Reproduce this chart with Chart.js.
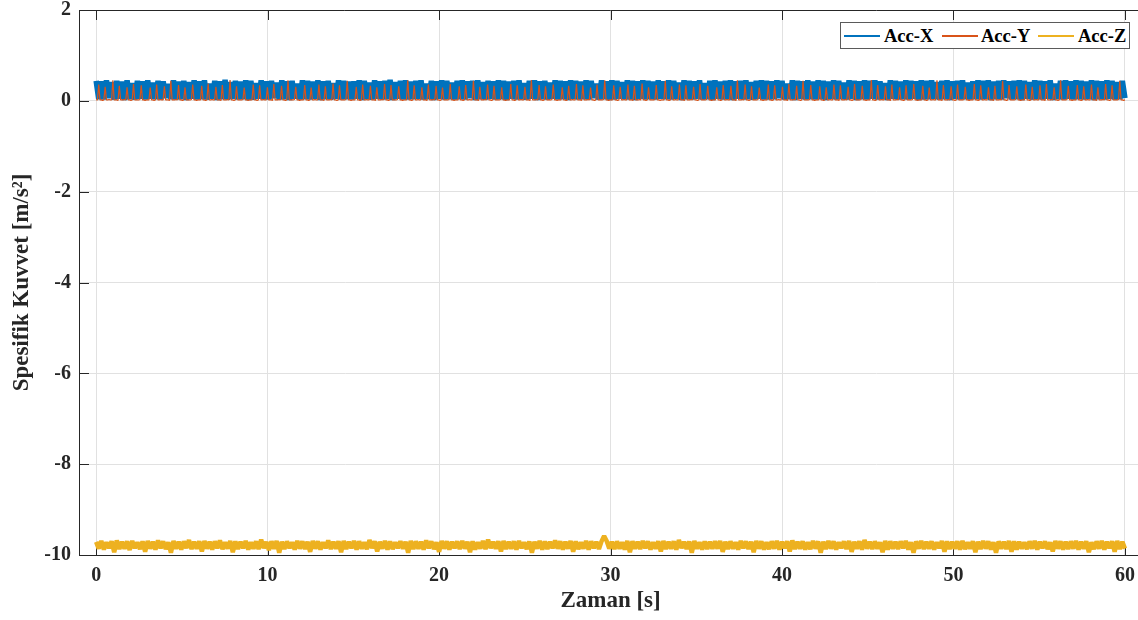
<!DOCTYPE html>
<html>
<head>
<meta charset="utf-8">
<script src="https://cdn.jsdelivr.net/npm/chart.js@4"></script>
<style>
html,body{margin:0;padding:0;background:#fff;overflow:hidden;}
#wrap{position:relative;width:1146px;height:620px;}
#legend{position:absolute;left:840px;top:22px;width:290px;height:27px;box-sizing:border-box;border:1px solid #5a5a5a;background:#fff;font:bold 18.5px "Liberation Serif","Times New Roman",serif;color:#000;}
#legend .sw{position:absolute;top:12px;width:36px;height:1.6px;}
#legend .tx{position:absolute;top:1px;line-height:24px;white-space:nowrap;}
</style>
</head>
<body>
<div id="wrap"><canvas id="c"></canvas><div id="legend"></div></div>
<script>
// ---- data ----
const seriesNames = ['Acc-X', 'Acc-Y', 'Acc-Z'];
const xTicks = [0, 10, 20, 30, 40, 50, 60];
const yTicks = [-10, -8, -6, -4, -2, 0, 2];
const duration = 60; // seconds covered by the samples

const accX = [
0.44,0.04,0.43,0.03,0.45,0.06,0.41,0.03,0.44,0.05,0.42,0.02,0.45,0.04,0.39,0.03,0.44,0.05,0.43,0.03,
0.45,0.05,0.40,0.04,0.44,0.03,0.43,0.06,0.37,0.04,0.45,0.03,0.42,0.04,0.44,0.02,0.41,0.05,0.45,0.03,
0.43,0.04,0.45,0.03,0.38,0.05,0.44,0.02,0.43,0.04,0.46,0.03,0.41,0.05,0.44,0.03,0.42,0.04,0.45,0.02,
0.44,0.03,0.39,0.05,0.45,0.04,0.43,0.03,0.44,0.06,0.40,0.03,0.45,0.04,0.43,0.02,0.44,0.05,0.38,0.03,
0.45,0.04,0.44,0.03,0.42,0.05,0.45,0.02,0.43,0.04,0.44,0.03,0.39,0.05,0.45,0.03,0.44,0.04,0.42,0.03,
0.43,0.05,0.45,0.02,0.44,0.04,0.40,0.03,0.45,0.05,0.43,0.03,0.44,0.04,0.46,0.02,0.41,0.05,0.44,0.03,
0.45,0.03,0.42,0.04,0.44,0.05,0.45,0.03,0.38,0.04,0.44,0.02,0.43,0.05,0.45,0.03,0.44,0.04,0.40,0.03,
0.44,0.04,0.45,0.03,0.43,0.06,0.44,0.02,0.45,0.04,0.41,0.03,0.44,0.05,0.43,0.03,0.45,0.04,0.44,0.02,
0.42,0.05,0.44,0.03,0.45,0.04,0.39,0.03,0.44,0.05,0.45,0.02,0.43,0.04,0.44,0.03,0.40,0.05,0.45,0.03,
0.44,0.04,0.43,0.02,0.45,0.05,0.44,0.03,0.42,0.04,0.45,0.03,0.44,0.06,0.38,0.03,0.45,0.04,0.43,0.02,
0.45,0.03,0.44,0.05,0.41,0.04,0.45,0.03,0.44,0.02,0.43,0.05,0.45,0.03,0.44,0.04,0.42,0.03,0.45,0.05,
0.43,0.04,0.45,0.03,0.44,0.05,0.40,0.02,0.45,0.04,0.44,0.03,0.43,0.05,0.45,0.03,0.39,0.04,0.44,0.02,
0.45,0.05,0.42,0.03,0.44,0.04,0.45,0.02,0.43,0.05,0.44,0.03,0.45,0.04,0.41,0.03,0.44,0.05,0.45,0.03,
0.44,0.03,0.43,0.04,0.45,0.06,0.44,0.03,0.38,0.04,0.45,0.02,0.44,0.05,0.43,0.03,0.45,0.04,0.42,0.03,
0.45,0.04,0.44,0.02,0.42,0.05,0.45,0.03,0.44,0.04,0.40,0.03,0.45,0.05,0.44,0.02,0.43,0.04,0.45,0.03,
0.44,0.05,0.45,0.03,0.43,0.04,0.39,0.02,0.45,0.05,0.44,0.03,0.42,0.04,0.45,0.03,0.44,0.05,0.43,0.02,
0.45,0.03,0.44,0.04,0.45,0.05,0.41,0.03,0.44,0.04,0.45,0.02,0.43,0.05,0.44,0.03,0.45,0.04,0.40,0.03,
0.43,0.04,0.45,0.03,0.44,0.05,0.45,0.02,0.42,0.04,0.44,0.03,0.45,0.06,0.43,0.03,0.44,0.04,0.45,0.02,
0.44,0.05,0.41,0.03,0.45,0.04,0.44,0.03,0.43,0.05,0.45,0.02,0.38,0.04,0.44,0.03,0.45,0.05,0.43,0.03,
0.45,0.04,0.44,0.03,0.42,0.05,0.45,0.02,0.44,0.04,0.43,0.03,0.45,0.05,0.44,0.03,0.41,0.04,0.44,0.06
];

const accY = [
0.02,0.02,0.36,0.02,0.02,0.01,0.02,0.31,0.02,0.02,0.03,0.02,0.02,0.45,0.02,0.02,0.02,0.01,0.33,0.02,0.02,0.02,0.03,0.02,0.30,0.02,0.02,0.01,0.02,0.37,0.02,0.02,0.02,0.02,0.03,0.34,0.02,0.02,0.01,0.02,
0.02,0.02,0.29,0.02,0.02,0.01,0.02,0.36,0.02,0.02,0.03,0.02,0.02,0.32,0.02,0.02,0.02,0.01,0.44,0.02,0.02,0.02,0.03,0.02,0.35,0.02,0.02,0.01,0.02,0.30,0.02,0.02,0.02,0.02,0.03,0.36,0.02,0.02,0.01,0.02,
0.02,0.02,0.33,0.02,0.02,0.01,0.02,0.38,0.02,0.02,0.03,0.02,0.02,0.31,0.02,0.02,0.02,0.01,0.35,0.02,0.02,0.02,0.03,0.02,0.46,0.02,0.02,0.01,0.02,0.32,0.02,0.02,0.02,0.02,0.03,0.29,0.02,0.02,0.01,0.02,
0.02,0.02,0.36,0.02,0.02,0.01,0.02,0.34,0.02,0.02,0.03,0.02,0.02,0.30,0.02,0.02,0.02,0.01,0.37,0.02,0.02,0.02,0.03,0.02,0.33,0.02,0.02,0.01,0.02,0.45,0.02,0.02,0.02,0.02,0.03,0.31,0.02,0.02,0.01,0.02,
0.02,0.02,0.35,0.02,0.02,0.01,0.02,0.29,0.02,0.02,0.03,0.02,0.02,0.36,0.02,0.02,0.02,0.01,0.32,0.02,0.02,0.02,0.03,0.02,0.38,0.02,0.02,0.01,0.02,0.34,0.02,0.02,0.02,0.02,0.03,0.44,0.02,0.02,0.01,0.02,
0.02,0.02,0.31,0.02,0.02,0.01,0.02,0.36,0.02,0.02,0.03,0.02,0.02,0.33,0.02,0.02,0.02,0.01,0.30,0.02,0.02,0.02,0.03,0.02,0.37,0.02,0.02,0.01,0.02,0.35,0.02,0.02,0.02,0.02,0.03,0.32,0.02,0.02,0.01,0.02,
0.02,0.02,0.45,0.02,0.02,0.01,0.02,0.34,0.02,0.02,0.03,0.02,0.02,0.30,0.02,0.02,0.02,0.01,0.36,0.02,0.02,0.02,0.03,0.02,0.33,0.02,0.02,0.01,0.02,0.29,0.02,0.02,0.02,0.02,0.03,0.37,0.02,0.02,0.01,0.02,
0.02,0.02,0.32,0.02,0.02,0.01,0.02,0.35,0.02,0.02,0.03,0.02,0.02,0.44,0.02,0.02,0.02,0.01,0.31,0.02,0.02,0.02,0.03,0.02,0.36,0.02,0.02,0.01,0.02,0.33,0.02,0.02,0.02,0.02,0.03,0.30,0.02,0.02,0.01,0.02,
0.02,0.02,0.37,0.02,0.02,0.01,0.02,0.34,0.02,0.02,0.03,0.02,0.02,0.31,0.02,0.02,0.02,0.01,0.46,0.02,0.02,0.02,0.03,0.02,0.35,0.02,0.02,0.01,0.02,0.32,0.02,0.02,0.02,0.02,0.03,0.36,0.02,0.02,0.01,0.02,
0.02,0.02,0.30,0.02,0.02,0.01,0.02,0.33,0.02,0.02,0.03,0.02,0.02,0.37,0.02,0.02,0.02,0.01,0.34,0.02,0.02,0.02,0.03,0.02,0.29,0.02,0.02,0.01,0.02,0.36,0.02,0.02,0.02,0.02,0.03,0.45,0.02,0.02,0.01,0.02,
0.02,0.02,0.34,0.02,0.02,0.01,0.02,0.31,0.02,0.02,0.03,0.02,0.02,0.36,0.02,0.02,0.02,0.01,0.33,0.02,0.02,0.02,0.03,0.02,0.38,0.02,0.02,0.01,0.02,0.30,0.02,0.02,0.02,0.02,0.03,0.35,0.02,0.02,0.01,0.02,
0.02,0.02,0.44,0.02,0.02,0.01,0.02,0.32,0.02,0.02,0.03,0.02,0.02,0.36,0.02,0.02,0.02,0.01,0.34,0.02,0.02,0.02,0.03,0.02,0.31,0.02,0.02,0.01,0.02,0.37,0.02,0.02,0.02,0.02,0.03,0.33,0.02,0.02,0.01,0.02,
0.02,0.02,0.30,0.02,0.02,0.01,0.02,0.35,0.02,0.02,0.03,0.02,0.02,0.33,0.02,0.02,0.02,0.01,0.45,0.02,0.02,0.02,0.03,0.02,0.36,0.02,0.02,0.01,0.02,0.32,0.02,0.02,0.02,0.02,0.03,0.29,0.02,0.02,0.01,0.02,
0.02,0.02,0.36,0.02,0.02,0.01,0.02,0.34,0.02,0.02,0.03,0.02,0.02,0.31,0.02,0.02,0.02,0.01,0.37,0.02,0.02,0.02,0.03,0.02,0.33,0.02,0.02,0.01,0.02,0.44,0.02,0.02,0.02,0.02,0.03,0.35,0.02,0.02,0.01,0.02,
0.02,0.02,0.32,0.02,0.02,0.01,0.02,0.30,0.02,0.02,0.03,0.02,0.02,0.36,0.02,0.02,0.02,0.01,0.34,0.02,0.02,0.02,0.03,0.02,0.31,0.02,0.02,0.01,0.02,0.37,0.02,0.02,0.02,0.02,0.03,0.33,0.02,0.02,0.01,0.02,
0.02,0.02,0.46,0.02,0.02,0.01,0.02,0.35,0.02,0.02,0.03,0.02,0.02,0.32,0.02,0.02,0.02,0.01,0.36,0.02,0.02,0.02,0.03,0.02,0.30,0.02,0.02,0.01,0.02,0.34,0.02,0.02,0.02,0.02,0.03,0.37,0.02,0.02,0.01,0.02,
0.02,0.02,0.33,0.02,0.02,0.01,0.02,0.29,0.02,0.02,0.03,0.02,0.02,0.45,0.02,0.02,0.02,0.01,0.35,0.02,0.02,0.02,0.03,0.02,0.32,0.02,0.02,0.01,0.02,0.36,0.02,0.02,0.02,0.02,0.03,0.31,0.02,0.02,0.01,0.02,
0.02,0.02,0.37,0.02,0.02,0.01,0.02,0.34,0.02,0.02,0.03,0.02,0.02,0.30,0.02,0.02,0.02,0.01,0.33,0.02,0.02,0.02,0.03,0.02,0.44,0.02,0.02,0.01,0.02,0.35,0.02,0.02,0.02,0.02,0.03,0.32,0.02,0.02,0.01,0.02,
0.02,0.02,0.36,0.02,0.02,0.01,0.02,0.31,0.02,0.02,0.03,0.02,0.02,0.34,0.02,0.02,0.02,0.01,0.37,0.02,0.02,0.02,0.03,0.02,0.30,0.02,0.02,0.01,0.02,0.45,0.02,0.02,0.02,0.02,0.03,0.33,0.02,0.02,0.01,0.02,
0.02,0.02,0.35,0.02,0.02,0.01,0.02,0.32,0.02,0.02,0.03,0.02,0.02,0.36,0.02,0.02,0.02,0.01,0.30,0.02,0.02,0.02,0.03,0.02,0.37,0.02,0.02,0.01,0.02,0.34,0.02,0.02,0.02,0.02,0.03,0.44,0.02,0.02,0.01,0.02
];

const accZ = [
-9.71,-9.86,-9.69,-9.88,-9.72,-9.85,-9.70,-9.94,-9.68,-9.87,-9.71,-9.86,-9.70,-9.89,-9.69,-9.85,-9.72,-9.87,-9.70,-9.93,
-9.69,-9.86,-9.71,-9.88,-9.68,-9.85,-9.70,-9.87,-9.72,-9.95,-9.69,-9.86,-9.71,-9.88,-9.70,-9.85,-9.67,-9.87,-9.71,-9.86,
-9.70,-9.92,-9.69,-9.86,-9.71,-9.88,-9.70,-9.85,-9.68,-9.87,-9.72,-9.86,-9.69,-9.94,-9.70,-9.87,-9.71,-9.85,-9.69,-9.88,
-9.72,-9.86,-9.70,-9.87,-9.66,-9.85,-9.71,-9.89,-9.70,-9.86,-9.69,-9.95,-9.71,-9.87,-9.70,-9.85,-9.72,-9.88,-9.69,-9.86,
-9.70,-9.87,-9.71,-9.93,-9.69,-9.86,-9.70,-9.88,-9.72,-9.85,-9.68,-9.87,-9.71,-9.86,-9.70,-9.94,-9.69,-9.87,-9.71,-9.85,
-9.69,-9.88,-9.70,-9.86,-9.72,-9.87,-9.67,-9.85,-9.70,-9.92,-9.71,-9.86,-9.69,-9.88,-9.70,-9.87,-9.72,-9.85,-9.70,-9.86,
-9.71,-9.95,-9.69,-9.87,-9.70,-9.86,-9.71,-9.88,-9.68,-9.85,-9.70,-9.87,-9.72,-9.93,-9.69,-9.86,-9.70,-9.88,-9.71,-9.85,
-9.70,-9.87,-9.69,-9.86,-9.71,-9.94,-9.70,-9.88,-9.72,-9.86,-9.69,-9.87,-9.66,-9.85,-9.71,-9.86,-9.70,-9.92,-9.69,-9.87,
-9.71,-9.86,-9.70,-9.88,-9.69,-9.85,-9.72,-9.87,-9.70,-9.95,-9.71,-9.86,-9.69,-9.88,-9.70,-9.87,-9.71,-9.85,-9.68,-9.86,
-9.70,-9.88,-9.71,-9.86,-9.69,-9.93,-9.70,-9.87,-9.72,-9.86,-9.69,-9.88,-9.70,-9.85,-9.71,-9.87,-9.70,-9.58,-9.69,-9.86,
-9.71,-9.87,-9.70,-9.86,-9.72,-9.88,-9.69,-9.94,-9.70,-9.86,-9.71,-9.87,-9.69,-9.85,-9.70,-9.88,-9.72,-9.86,-9.70,-9.92,
-9.69,-9.87,-9.71,-9.86,-9.70,-9.88,-9.67,-9.85,-9.71,-9.87,-9.70,-9.95,-9.69,-9.86,-9.72,-9.88,-9.70,-9.87,-9.71,-9.86,
-9.70,-9.86,-9.69,-9.93,-9.71,-9.87,-9.70,-9.86,-9.72,-9.88,-9.69,-9.85,-9.70,-9.87,-9.71,-9.94,-9.69,-9.86,-9.70,-9.88,
-9.72,-9.87,-9.70,-9.86,-9.69,-9.88,-9.71,-9.85,-9.70,-9.92,-9.68,-9.87,-9.71,-9.86,-9.70,-9.88,-9.72,-9.87,-9.69,-9.86,
-9.70,-9.95,-9.71,-9.87,-9.69,-9.86,-9.70,-9.88,-9.72,-9.85,-9.70,-9.87,-9.69,-9.93,-9.71,-9.86,-9.70,-9.88,-9.67,-9.86,
-9.71,-9.87,-9.70,-9.86,-9.72,-9.94,-9.69,-9.88,-9.70,-9.86,-9.71,-9.87,-9.70,-9.85,-9.69,-9.88,-9.72,-9.95,-9.70,-9.86,
-9.69,-9.87,-9.71,-9.86,-9.70,-9.88,-9.72,-9.85,-9.69,-9.93,-9.70,-9.87,-9.71,-9.86,-9.70,-9.88,-9.69,-9.87,-9.72,-9.86,
-9.70,-9.94,-9.71,-9.87,-9.69,-9.86,-9.70,-9.88,-9.72,-9.95,-9.70,-9.86,-9.71,-9.87,-9.69,-9.93,-9.70,-9.88,-9.71,-9.86,
-9.72,-9.87,-9.70,-9.86,-9.69,-9.88,-9.71,-9.85,-9.70,-9.87,-9.72,-9.92,-9.69,-9.86,-9.70,-9.88,-9.71,-9.87,-9.70,-9.86,
-9.69,-9.88,-9.71,-9.86,-9.70,-9.94,-9.72,-9.87,-9.70,-9.86,-9.69,-9.88,-9.71,-9.85,-9.70,-9.93,-9.69,-9.87,-9.71,-9.86
];

// ---- styling ----
const seriesColors = ['#0072BD', '#D95319', '#EDB120'];
const FONT = '"Liberation Serif", "Times New Roman", serif';
const AX = '#262626';

function toPoints(arr) {
  const dt = duration / (arr.length - 1);
  return arr.map((v, i) => ({ x: i * dt, y: v }));
}

const framePlugin = {
  id: 'frame',
  beforeDatasetsDraw(chart) {
    const { ctx, chartArea: { left, right, top, bottom }, scales: { x, y } } = chart;
    ctx.save();
    ctx.strokeStyle = AX;
    ctx.lineWidth = 1;
    ctx.beginPath();
    ctx.moveTo(left, top + 0.5);
    ctx.lineTo(right, top + 0.5);
    x.ticks.forEach(t => {
      const px = Math.round(x.getPixelForValue(t.value)) + 0.5;
      ctx.moveTo(px, bottom); ctx.lineTo(px, bottom - 10);
      ctx.moveTo(px, top); ctx.lineTo(px, top + 10);
    });
    y.ticks.forEach(t => {
      const py = Math.round(y.getPixelForValue(t.value)) + 0.5;
      ctx.moveTo(left, py); ctx.lineTo(left + 10, py);
    });
    ctx.stroke();
    ctx.restore();
  }
};

const seriesData = [accX, accY, accZ];
const widths = [5.5, 1.2, 4.5];
const chart = new Chart(document.getElementById('c'), {
  type: 'line',
  data: {
    datasets: seriesData.map((arr, i) => ({
      label: seriesNames[i],
      data: toPoints(arr),
      borderColor: seriesColors[i],
      backgroundColor: seriesColors[i],
      borderWidth: widths[i],
      borderJoinStyle: 'bevel',
      borderCapStyle: 'butt',
      pointRadius: 0,
      tension: 0,
      fill: false,
      order: 2 - i
    }))
  },
  options: {
    responsive: true,
    maintainAspectRatio: false,
    animation: false,
    devicePixelRatio: 1,
    layout: { padding: { top: 10, right: 3, left: 0, bottom: 0 } },
    plugins: { legend: { display: false }, tooltip: { enabled: false } },
    scales: {
      x: {
        type: 'linear',
        min: -1, max: 61,
        afterBuildTicks: s => { s.ticks = xTicks.map(v => ({ value: v })); },
        afterFit: s => { s.height = 65; },
        ticks: { color: AX, padding: 11, maxRotation: 0, autoSkip: false,
                 font: { family: FONT, size: 20, weight: 'bold', lineHeight: 1 } },
        grid: { color: '#e1e1e1', lineWidth: 1, drawTicks: false },
        border: { color: AX, width: 1 },
        title: { display: true, text: 'Zaman [s]', color: AX,
                 font: { family: FONT, size: 23, weight: 'bold' }, padding: { top: 0, bottom: 5 } }
      },
      y: {
        min: -10, max: 2,
        afterBuildTicks: s => { s.ticks = yTicks.map(v => ({ value: v })); },
        afterFit: s => { s.width = 79; s.paddingTop = 0; s.paddingBottom = 0; },
        ticks: { color: AX, padding: 8,
                 font: { family: FONT, size: 20, weight: 'bold', lineHeight: 1 } },
        grid: { color: '#e1e1e1', lineWidth: 1, drawTicks: false },
        border: { color: AX, width: 1 },
        title: { display: true, text: 'Spesifik Kuvvet [m/s²]', color: AX,
                 font: { family: FONT, size: 23, weight: 'bold' }, padding: { top: 8, bottom: 0 } }
      }
    }
  },
  plugins: [framePlugin]
});

// legend box built from the datasets
const legend = document.getElementById('legend');
const swLeft = [3, 101, 197], txLeft = [43, 140, 237];
chart.data.datasets.forEach((ds, i) => {
  const sw = document.createElement('div');
  sw.className = 'sw'; sw.style.left = swLeft[i] + 'px'; sw.style.background = ds.borderColor;
  const tx = document.createElement('span');
  tx.className = 'tx'; tx.style.left = txLeft[i] + 'px'; tx.textContent = ds.label;
  legend.appendChild(sw); legend.appendChild(tx);
});
</script>
</body>
</html>
